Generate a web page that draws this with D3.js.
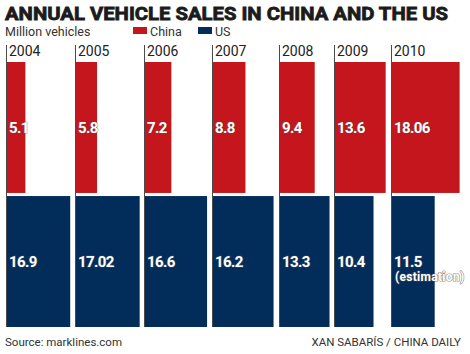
<!DOCTYPE html>
<html>
<head>
<meta charset="utf-8">
<script src="https://cdn.jsdelivr.net/npm/d3@7.9.0/dist/d3.min.js"></script>
<style>
  html, body { margin: 0; padding: 0; background: #fff; }
  svg { display: block; }
</style>
</head>
<body>
<svg id="chart" width="470" height="354"></svg>
<script>
// Data (million vehicles)
const years = ["2004", "2005", "2006", "2007", "2008", "2009", "2010"];
const china = [5.1, 5.8, 7.2, 8.8, 9.4, 13.6, 18.06];
const us    = [16.9, 17.02, 16.6, 16.2, 13.3, 10.4, 11.5];
const chinaLabels = ["5.1", "5.8", "7.2", "8.8", "9.4", "13.6", "18.06"];
const usLabels    = ["16.9", "17.02", "16.6", "16.2", "13.3", "10.4", "11.5"];
const series = ["China", "US"];

const RED = "#c4161c";
const NAVY = "#022d5b";

const svg = d3.select("#chart");

// width of a bar is proportional to its value
const w = d3.scaleLinear().domain([0, 20]).range([0, 76]);
const gap = 4.8;

// each column starts after the wider bar of the previous column
const colX = [];
let x0 = 6;
years.forEach((y, i) => {
  colX.push(Math.round(x0));
  x0 += w(Math.max(china[i], us[i])) + gap;
});

// two rows: China on top, US below
const row = d3.scaleBand().domain(series).range([62, 327]).paddingInner(0.023);

// ----- Title, subtitle, legend -----
svg.append("text")
  .attr("x", 5).attr("y", 20)
  .attr("textLength", 443).attr("lengthAdjust", "spacingAndGlyphs")
  .style("font-family", "Roboto, sans-serif")
  .style("font-weight", "bold")
  .style("font-size", "19px")
  .attr("fill", "#1b1b1b")
  .attr("stroke", "#1b1b1b")
  .attr("stroke-width", 0.8)
  .text("ANNUAL VEHICLE SALES IN CHINA AND THE US");

svg.append("text")
  .attr("x", 5).attr("y", 36)
  .style("font-family", "Roboto, sans-serif")
  .style("font-size", "12.5px")
  .attr("fill", "#333")
  .text("Million vehicles");

const legend = svg.append("g");
[{ name: "China", color: RED, x: 133 }, { name: "US", color: NAVY, x: 198 }].forEach(d => {
  legend.append("rect")
    .attr("x", d.x).attr("y", 27).attr("width", 14).attr("height", 7)
    .attr("fill", d.color);
  legend.append("text")
    .attr("x", d.x + 17).attr("y", 36)
    .style("font-family", "Roboto, sans-serif")
    .style("font-size", "12.5px")
    .attr("fill", "#333")
    .text(d.name);
});

// ----- Columns -----
const cols = svg.selectAll("g.col")
  .data(years)
  .enter()
  .append("g")
  .attr("class", "col")
  .attr("transform", (d, i) => `translate(${colX[i]},0)`);

// China bars
cols.append("rect")
  .attr("x", 0)
  .attr("y", row("China"))
  .attr("width", (d, i) => w(china[i]))
  .attr("height", row.bandwidth())
  .attr("fill", RED);

// US bars
cols.append("rect")
  .attr("x", 0)
  .attr("y", row("US"))
  .attr("width", (d, i) => w(us[i]))
  .attr("height", row.bandwidth())
  .attr("fill", NAVY);

// left guide line of each column
cols.append("line")
  .attr("x1", 0.5).attr("x2", 0.5)
  .attr("y1", 45).attr("y2", 327)
  .attr("stroke", "#4a4a4a")
  .attr("stroke-width", 1);

// year labels
cols.append("text")
  .attr("x", 3).attr("y", 56)
  .style("font-family", "Roboto, sans-serif")
  .style("font-size", "14px")
  .attr("fill", "#222")
  .text(d => d);

// value labels
function valueLabel(sel, key, labels) {
  sel.append("text")
    .attr("x", 3)
    .attr("y", row(key) + row.bandwidth() / 2)
    .attr("dy", "0.36em")
    .style("font-family", "Roboto, sans-serif")
    .style("font-weight", "bold")
    .style("font-size", "15px")
    .style("letter-spacing", "-0.6px")
    .style("paint-order", "stroke")
    .attr("stroke", "#555")
    .attr("stroke-width", 1.2)
    .attr("stroke-opacity", 0.6)
    .attr("fill", "#fff")
    .text((d, i) => labels[i]);
}
valueLabel(cols, "China", chinaLabels);
valueLabel(cols, "US", usLabels);

// 2010 US is an estimate
svg.append("text")
  .attr("x", colX[years.length - 1] + 4)
  .attr("y", row("US") + row.bandwidth() / 2 + 19)
  .style("font-family", "Roboto, sans-serif")
  .style("font-weight", "bold")
  .style("font-size", "12px")
  .style("letter-spacing", "0.3px")
  .style("paint-order", "stroke")
  .attr("stroke", "#555")
  .attr("stroke-width", 1.2)
  .attr("stroke-opacity", 0.7)
  .attr("fill", "#fff")
  .text("(estimation)");

// ----- Footer -----
svg.append("text")
  .attr("x", 5).attr("y", 346)
  .style("font-family", "Roboto, sans-serif")
  .style("font-size", "11.5px")
  .attr("fill", "#333")
  .text("Source: marklines.com");

svg.append("text")
  .attr("x", 461).attr("y", 346)
  .attr("text-anchor", "end")
  .style("font-family", "Roboto, sans-serif")
  .style("font-size", "11.5px")
  .attr("fill", "#333")
  .text("XAN SABARÍS / CHINA DAILY");
</script>
</body>
</html>
